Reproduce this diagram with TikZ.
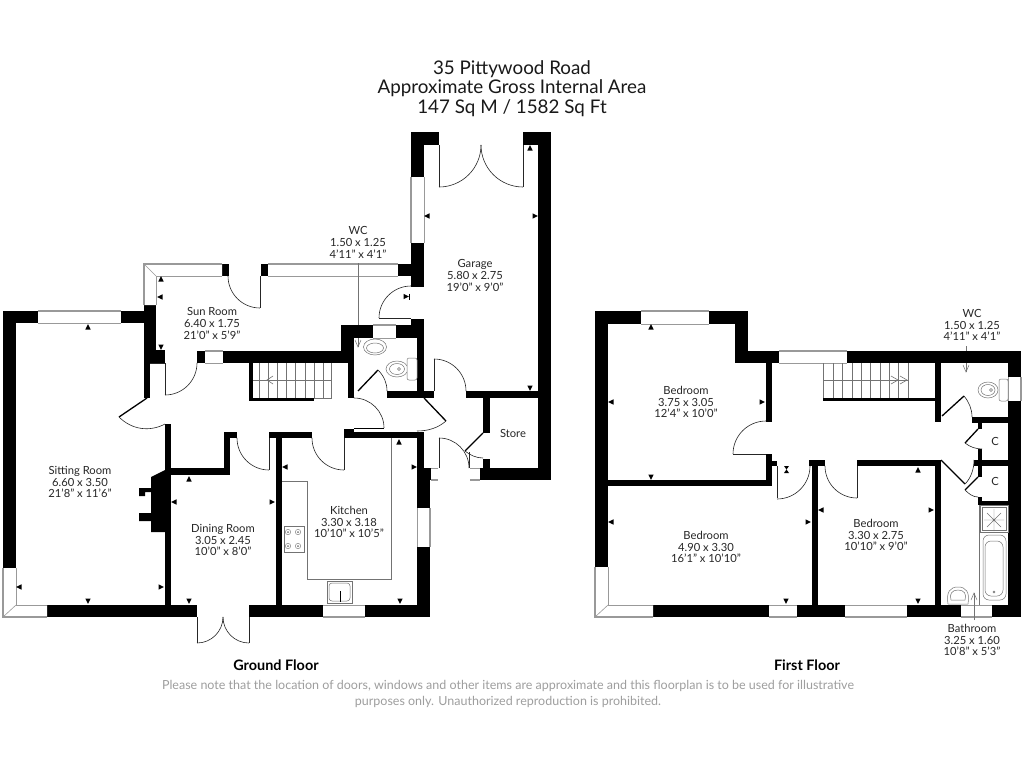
\documentclass[tikz,border=0pt]{standalone}
\usepackage{fontspec}
\setmainfont{Lato}
\definecolor{wingray}{gray}{0.6}
\definecolor{notegray}{gray}{0.62}
\definecolor{fixgray}{gray}{0.45}
\tikzset{
  doorline/.style={line width=0.6pt,draw=black!85},
  thickdoor/.style={line width=1.3pt,draw=black},
  fixture/.style={line width=0.5pt,draw=fixgray,fill=white},
  stairline/.style={line width=0.6pt,draw=fixgray},
  dimarrow/.style={line width=0.5pt,draw=fixgray},
  roomlabel/.style={font=\fontsize{11.2}{11.6}\selectfont,align=center,text=black!85,inner sep=0pt},
  titletext/.style={font=\fontsize{18.8}{19.6}\selectfont,align=center,text=black!90,inner sep=0pt},
  floorname/.style={font=\fontsize{14.4}{15}\selectfont\bfseries,inner sep=0pt},
  notetext/.style={font=\fontsize{12.5}{15.5}\selectfont,align=center,text=notegray,inner sep=0pt}
}
\newcommand{\Wl}[4]{\fill[black] (#1,#2) rectangle (#3,#4);}
\newcommand{\winh}[4]{\fill[white] (#1,#3) rectangle (#2,#4);\draw[wingray,line width=1.6pt] (#1,#3) -- (#2,#3);\draw[wingray,line width=0.6pt] (#1,#4) -- (#2,#4);}
\newcommand{\winv}[4]{\fill[white] (#1,#3) rectangle (#2,#4);\draw[wingray,line width=1.6pt] (#1,#3) -- (#1,#4);\draw[wingray,line width=0.6pt] (#2,#3) -- (#2,#4);}
\newcommand{\qarc}[5]{\draw[doorline] ({#1+#3*cos(#4)},{#2+#3*sin(#4)}) arc[start angle=#4,end angle=#5,radius=#3];}
\newcommand{\tu}[2]{\fill[black] (#1-2.7,#2+2.5) -- (#1+2.7,#2+2.5) -- (#1,#2-2.9) -- cycle;}
\newcommand{\td}[2]{\fill[black] (#1-2.7,#2-2.5) -- (#1+2.7,#2-2.5) -- (#1,#2+2.9) -- cycle;}
\newcommand{\tl}[2]{\fill[black] (#1+2.5,#2-2.7) -- (#1+2.5,#2+2.7) -- (#1-2.9,#2) -- cycle;}
\newcommand{\tr}[2]{\fill[black] (#1-2.5,#2-2.7) -- (#1-2.5,#2+2.7) -- (#1+2.9,#2) -- cycle;}
\newcommand{\hobring}[2]{\draw[fixgray,line width=0.4pt] (#1,#2) circle[radius=2.7];\fill[fixgray] (#1,#2) circle[radius=1];}
\begin{document}
\begin{tikzpicture}[x=1pt,y=-1pt]
\useasboundingbox (0,0) rectangle (1024,768);
\fill[white] (0,0) rectangle (1024,768);

% ---------- GROUND FLOOR walls
\Wl{3}{311}{38}{323}\Wl{3}{311}{16}{568}\Wl{121}{311}{156}{323}\Wl{144}{305}{156}{350}
\Wl{144}{350}{165}{363}\Wl{144}{363}{150}{398}
\Wl{222}{264}{229}{276}\Wl{261}{264}{268}{276}\Wl{398}{264}{424}{276}
\Wl{411}{132}{424}{177}\Wl{411}{132}{439}{145}\Wl{523}{132}{551}{145}\Wl{538}{132}{551}{480}
\Wl{411}{243}{424}{287}\Wl{411}{319}{424}{332}\Wl{417}{320}{424}{398}
\Wl{341}{325}{373}{338}\Wl{396}{325}{424}{338}\Wl{341}{325}{354}{351}\Wl{348}{351}{354}{398}
\Wl{223}{351}{354}{363}\Wl{197}{351}{205}{363}
\Wl{249}{363}{253}{401}\Wl{249}{398}{314}{401}
\Wl{387}{391}{434}{398}\Wl{466}{391}{538}{398}\Wl{483}{398}{490}{433}\Wl{483}{459}{490}{468}\Wl{480}{468}{551}{480}
\Wl{344}{432}{424}{438}\Wl{344}{429}{354}{438}
\Wl{417}{432}{424}{468}\Wl{417}{468}{431}{480}\Wl{417}{480}{430}{508}\Wl{417}{547}{430}{617}
\Wl{365}{605}{430}{617}\Wl{249}{605}{323}{617}\Wl{47}{605}{197}{617}
\Wl{165}{424}{171}{605}\Wl{171}{468}{230}{475}\Wl{224}{432}{230}{468}\Wl{224}{432}{237}{438}
\Wl{269}{432}{312}{438}\Wl{276}{438}{282}{605}
% chimney
\fill[black] (165,470) -- (151,477) -- (151,488) -- (139,488) -- (139,496) -- (145,496) -- (145,492) -- (151,492)
  -- (151,513) -- (139,513) -- (139,521) -- (151,521) -- (151,532) -- (165,532) -- cycle;

% ---------- GROUND FLOOR windows
\winh{38}{121}{311}{323}
\fill[white] (144,264) -- (222,264) -- (222,276) -- (156,276) -- (156,305) -- (144,305) -- cycle;
\draw[wingray,line width=1.6pt] (144,305) -- (144,264) -- (222,264);
\draw[wingray,line width=0.6pt] (156,305) -- (156,276) -- (222,276);
\draw[wingray,line width=0.6pt] (144,264) -- (156,276);
\winh{268}{398}{264}{276}
\winv{411}{424}{177}{243}
\winh{373}{396}{325}{338}
\winh{205}{223}{351}{363}
\fill[white] (431,468) rectangle (438,480);\draw[wingray,line width=0.6pt] (431,468) -- (438,468);\draw[wingray,line width=1.2pt] (431,480) -- (438,480);
\fill[white] (470,468) rectangle (480,480);\draw[wingray,line width=0.6pt] (470,468) -- (480,468);\draw[wingray,line width=1.2pt] (470,480) -- (480,480);
\winv{430}{417}{508}{547}
\winh{323}{365}{617}{605}
% sitting room corner window
\fill[white] (3,568) -- (16,568) -- (16,605) -- (47,605) -- (47,617) -- (3,617) -- cycle;
\draw[wingray,line width=1.6pt] (3,568) -- (3,617) -- (47,617);
\draw[wingray,line width=0.6pt] (16,568) -- (16,605) -- (47,605);
\draw[wingray,line width=0.6pt] (3,617) -- (16,605);

% ---------- GROUND FLOOR doors
\draw[doorline] (439,145) -- (439,187);\qarc{439}{145}{42}{90}{0}
\draw[doorline] (523,145) -- (523,187);\qarc{523}{145}{42}{90}{180}
\draw[doorline] (379,318) -- (411,318);\qarc{411}{318}{32}{180}{270}
\draw[doorline] (260,276) -- (260,308);\qarc{260}{276}{32}{180}{90}
\draw[doorline] (165,363) -- (165,395);\qarc{165}{363}{32}{0}{90}
\draw[doorline] (150,363) -- (165,363);
\draw[thickdoor] (147,398) -- (119,417);
\draw[doorline] (119,417) .. controls (132,430) and (150,432) .. (165,424);
\draw[doorline] (269,438) -- (269,470);\qarc{269}{438}{32}{180}{90}
\draw[doorline] (344,438) -- (344,470);\qarc{344}{438}{32}{180}{90}
\draw[thickdoor] (354,428.5) -- (384,428.5);\qarc{354}{428}{30}{-90}{0}
\draw[thickdoor] (358,391) -- (378,370);
\draw[doorline] (378,370) .. controls (384,376) and (387,383) .. (387,391);
\draw[doorline] (434,391) -- (434,359);\qarc{434}{391}{32}{-90}{0}
\draw[thickdoor] (424,398) -- (446,421);
\draw[doorline] (446,421) .. controls (438,428) and (428,431) .. (417,431);
\draw[doorline] (439,438) -- (439,468);\qarc{439}{468}{30}{-90}{0}
\draw[doorline] (469,452) -- (469,468);
\draw[thickdoor] (483,433) -- (465,451);
\draw[doorline] (465,451) .. controls (470,455) and (476,458) .. (483,458);
\draw[doorline] (197,617) -- (197,643);\qarc{197}{617}{26}{90}{0}
\draw[doorline] (249,617) -- (249,643);\qarc{249}{617}{26}{90}{180}

% ---------- GROUND FLOOR stairs
\foreach \sx in {259,268,277,286,295,305,314,323,331}{\draw[stairline] (\sx,363) -- (\sx,398);}
\draw[stairline] (253,380) -- (331,380);
\draw[stairline] (273,376) -- (267,380) -- (273,384);
\draw[stairline] (314,398) -- (331,398) -- (331,380);

% ---------- GROUND FLOOR fixtures
\draw[fixgray,line width=0.5pt] (282,481) -- (307,481) -- (307,579) -- (391,579) -- (391,438);
\draw[fixture] (284,526) rectangle (304,552);
\hobring{288}{532}\hobring{298}{532}\hobring{288}{546}\hobring{298}{546}
\draw[fixture] (327,581) rectangle (352,603);
\draw[fixgray,line width=0.5pt,rounded corners=3pt] (329,583) rectangle (350,601);
\draw[black,line width=0.8pt] (340,591) -- (340,602);
% WC fittings
\draw[fixture] (375,347) ellipse[x radius=11.5,y radius=8];
\draw[fixgray,line width=0.5pt] (375,348) ellipse[x radius=8.5,y radius=5];
\draw[fixture] (397,369) ellipse[x radius=11,y radius=8];
\draw[fixgray,line width=0.5pt] (397,369) ellipse[x radius=7.5,y radius=5.5];
\draw[fixgray,line width=0.5pt] (399,369) circle[radius=1.5];
\draw[fixture,rounded corners=2pt] (407,358) rectangle (417,380);

% ---------- FIRST FLOOR walls
\Wl{595}{311}{641}{324}\Wl{595}{311}{608}{567}\Wl{709}{311}{748}{324}\Wl{735}{311}{748}{363}\Wl{735}{351}{779}{363}
\Wl{766}{363}{772}{422}\Wl{766}{454}{772}{486}\Wl{772}{461}{777}{466}\Wl{608}{480}{772}{486}
\Wl{847}{351}{1021}{363}\Wl{1008}{351}{1021}{377}\Wl{1008}{401}{1021}{617}
\Wl{992}{605}{1021}{617}\Wl{907}{605}{961}{617}\Wl{797}{605}{845}{617}\Wl{653}{605}{769}{617}
\Wl{809}{460}{825}{466}\Wl{812}{460}{818}{605}\Wl{857}{460}{941}{466}\Wl{935}{460}{941}{605}
\Wl{823}{398}{941}{401}\Wl{935}{363}{941}{422}\Wl{972}{417}{1008}{423}\Wl{978}{423}{982}{429}
\Wl{978}{449}{982}{460}\Wl{974}{460}{1008}{466}\Wl{978}{466}{982}{477}\Wl{978}{497}{982}{505}\Wl{978}{501}{1008}{505}

% ---------- FIRST FLOOR windows
\winh{641}{709}{311}{324}
\winh{779}{847}{351}{363}
\winv{1021}{1008}{377}{401}
\winh{769}{797}{617}{605}
\winh{845}{907}{617}{605}
\winh{961}{992}{617}{605}
\fill[white] (595,567) -- (608,567) -- (608,605) -- (653,605) -- (653,617) -- (595,617) -- cycle;
\draw[wingray,line width=1.6pt] (595,567) -- (595,617) -- (653,617);
\draw[wingray,line width=0.6pt] (608,567) -- (608,605) -- (653,605);
\draw[wingray,line width=0.6pt] (595,617) -- (608,605);

% ---------- FIRST FLOOR doors
\draw[doorline] (733,454) -- (766,454);\qarc{766}{454}{33}{180}{270}
\draw[doorline] (777,466) -- (777,498);\qarc{777}{466}{33}{90}{0}
\draw[doorline] (857,466) -- (857,498);\qarc{857}{466}{32}{180}{90}
\draw[thickdoor] (942,416) -- (964,396);
\draw[doorline] (964,396) .. controls (969,402) and (972,409) .. (972,417);
\draw[thickdoor] (978,429) -- (965,443);
\draw[doorline] (965,443) .. controls (970,447) and (976,449) .. (982,449);
\draw[thickdoor] (941,460) -- (965,484);
\draw[doorline] (965,484) .. controls (971,478) and (974,469) .. (974,460);
\draw[thickdoor] (978,477) -- (965,490);
\draw[doorline] (965,490) .. controls (969,494) and (973,497) .. (978,497);

% ---------- FIRST FLOOR stairs
\foreach \sx in {823,833,842,852,861,870,880,889,898,908}{\draw[stairline] (\sx,363) -- (\sx,398);}
\draw[stairline] (823,380) -- (908,380);
\draw[stairline] (891,376) -- (898,380) -- (891,384);
\draw[stairline] (900,376) -- (907,380) -- (900,384);

% ---------- FIRST FLOOR fixtures
\draw[fixture] (988,390) ellipse[x radius=10,y radius=8];
\draw[fixgray,line width=0.5pt] (988,390) ellipse[x radius=7,y radius=5.5];
\draw[fixgray,line width=0.5pt] (991,390) circle[radius=1.5];
\draw[fixture,rounded corners=2pt] (999,379) rectangle (1008,401);
\draw[fixture] (980,505) rectangle (1008,532);
\draw[fixgray,line width=0.5pt] (982,507) rectangle (1006,530);
\draw[fixgray,line width=0.4pt] (987,513) -- (1001,527) (1001,513) -- (987,527) (994,509) -- (994,531) (984,520) -- (1004,520);
\draw[fixgray,line width=0.5pt] (979,505) -- (979,605) (979,532) -- (1008,532);
\draw[fixgray,line width=0.5pt,rounded corners=6pt] (983,535) rectangle (1006,600);
\draw[fixgray,line width=0.5pt,rounded corners=6pt] (985,541) rectangle (1003,596);
\draw[fixgray,line width=0.5pt] (994,592) circle[radius=1];
\draw[fixture] (948,604) .. controls (946,592) and (950,587) .. (958,587) .. controls (966,587) and (970,592) .. (968,604) -- cycle;
\draw[fixgray,line width=0.5pt] (951,600) .. controls (949,594) and (952,590) .. (958,590) .. controls (964,590) and (967,594) .. (965,600) -- cycle;

% ---------- dimension arrows
\tu{88}{327}\td{88}{601}\tl{19}{587}\tr{161}{587}
\tu{189}{479}\td{189}{601}\tl{174}{502}\tr{272}{502}
\tu{161}{279}\tl{160}{297}\td{161}{347}\tr{406}{296.5}\draw[black,line width=0.7pt] (409,293.5) -- (409,299.5);
\tu{530}{148}\td{530}{388}\tl{427}{216}\tr{535}{216}
\tu{399}{442}\tr{414}{467}\tl{285}{467}\td{400}{601}
\tu{651}{327}\td{651}{477}\tl{611}{402}\tr{762}{402}
\fill[black] (784,466) -- (789,466) -- (784,473) -- (789,473) -- cycle;
\td{786}{601}\tl{611}{522}\tr{808}{522}
\tu{918}{470}\td{918}{601}\tl{821}{510}\tr{931}{510}

% ---------- leader arrows
\coordinate (wcaend) at (358,347);\coordinate (wcastart) at (358,263);\coordinate (wcawall) at (358,325);\coordinate (wcawallb) at (358,338);
\draw[dimarrow] (wcastart) -- (wcawall) (wcawallb) -- (wcaend);\draw[dimarrow] (355,340) -- (wcaend) -- (361,340);
\coordinate (wcbend) at (966,372);\coordinate (wcbstart) at (966,346);\coordinate (wcbwall) at (966,351);\coordinate (wcbwallb) at (966,363);
\draw[dimarrow] (wcbstart) -- (wcbwall) (wcbwallb) -- (wcbend);\draw[dimarrow] (963,365) -- (wcbend) -- (969,365);
\coordinate (baend) at (974,593);\coordinate (bastart) at (974,620);
\draw[dimarrow] (bastart) -- (baend);\draw[dimarrow] (971,600) -- (baend) -- (977,600);

% ---------- labels
\node[titletext] (title) at (512,88.5) {35 Pittywood Road\\Approximate Gross Internal Area\\147 Sq M / 1582 Sq Ft};
\node[roomlabel] (wca) at (358,242.5) {WC\\1.50 x 1.25\\4'11" x 4'1"};
\node[roomlabel] (garage) at (475,275.5) {Garage\\5.80 x 2.75\\19'0" x 9'0"};
\node[roomlabel] (sun) at (212,323.5) {Sun Room\\6.40 x 1.75\\21'0" x 5'9"};
\node[roomlabel] (sitting) at (80,482) {Sitting Room\\6.60 x 3.50\\21'8" x 11'6"};
\node[roomlabel] (dining) at (223,540) {Dining Room\\3.05 x 2.45\\10'0" x 8'0"};
\node[roomlabel] (kitchen) at (349,522) {Kitchen\\3.30 x 3.18\\10'10" x 10'5"};
\node[roomlabel] (store) at (513,433) {Store};
\node[roomlabel] (bedone) at (686,402) {Bedroom\\3.75 x 3.05\\12'4" x 10'0"};
\node[roomlabel] (bedtwo) at (706,547) {Bedroom\\4.90 x 3.30\\16'1" x 10'10"};
\node[roomlabel] (bedthree) at (876,535) {Bedroom\\3.30 x 2.75\\10'10" x 9'0"};
\node[roomlabel] (wcb) at (972,325) {WC\\1.50 x 1.25\\4'11" x 4'1"};
\node[roomlabel] (cupa) at (995,441) {C};
\node[roomlabel] (cupb) at (995,481) {C};
\node[roomlabel] (bath) at (972,640) {Bathroom\\3.25 x 1.60\\10'8" x 5'3"};
\node[floorname] (ground) at (276,665) {Ground Floor};
\node[floorname] (first) at (807,665) {First Floor};
\node[notetext] (note) at (508,694) {Please note that the location of doors, windows and other items are approximate and this floorplan is to be used for illustrative\\purposes only. Unauthorized reproduction is prohibited.};
\end{tikzpicture}
\end{document}
